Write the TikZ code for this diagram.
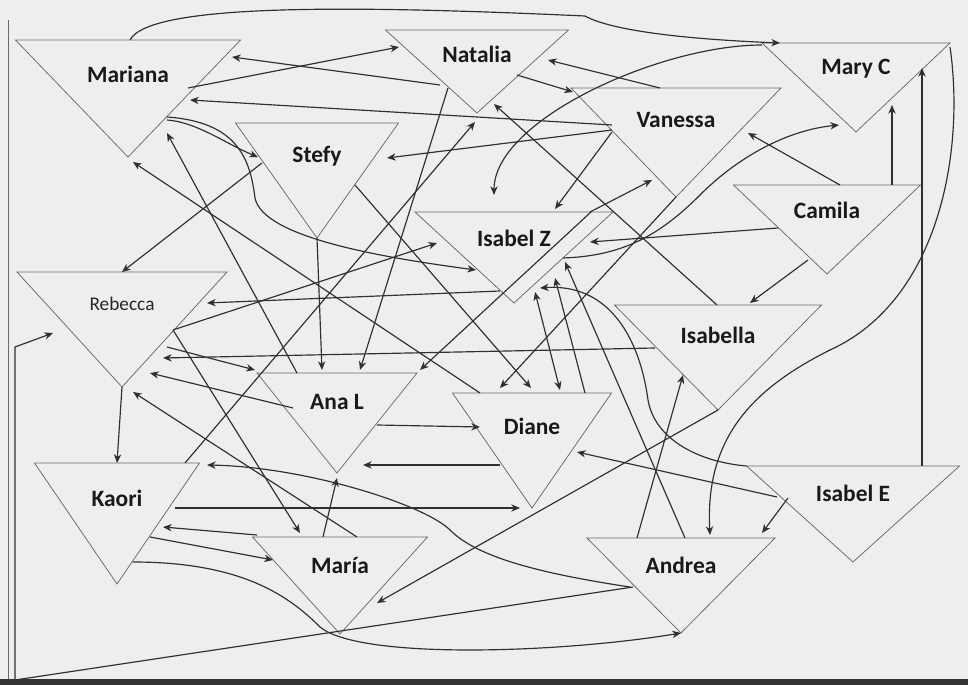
\documentclass[tikz,border=0pt]{standalone}
\usepackage{fontspec}
\setmainfont{Carlito}
\usetikzlibrary{calc,arrows.meta}
\definecolor{ink}{HTML}{303030}
\definecolor{edgegray}{HTML}{6A6A6A}
\definecolor{paper}{HTML}{EDEFEF}

\begin{document}
\begin{tikzpicture}[x=0.03cm,y=-0.03cm,>={Stealth[length=2.6mm,width=2.2mm,inset=0.8mm]},
  persona/.style={inner sep=0pt,outer sep=0pt,anchor=north},
  tri/.style={draw=edgegray,line width=0.65pt,line join=miter},
  nombre/.style={font=\fontsize{20}{24}\selectfont\bfseries,text=black!90},
  link/.style={->,draw=ink,line width=1pt}]
\fill[paper] (0,0) rectangle (968,685);
\useasboundingbox (0,0) rectangle (968,685);
\fill[black!80] (0,679) rectangle (968,685);
\draw[edgegray,line width=0.5pt] (8,20) -- (8,679);

% triangles (one hull per person, anchored at the top edge)
\node[persona,minimum width=225*0.3mm,minimum height=117*0.3mm] (mariana) at (128,40) {};
\node[persona,minimum width=183*0.3mm,minimum height=83*0.3mm] (natalia) at (477,30) {};
\node[persona,minimum width=210*0.3mm,minimum height=109*0.3mm] (vanessa) at (676,88) {};
\node[persona,minimum width=188*0.3mm,minimum height=89*0.3mm] (maryc) at (856,43) {};
\node[persona,minimum width=187*0.3mm,minimum height=89*0.3mm] (camila) at (827,185) {};
\node[persona,minimum width=163*0.3mm,minimum height=115*0.3mm] (stefy) at (317,123) {};
\node[persona,minimum width=198*0.3mm,minimum height=91*0.3mm] (isabelz) at (514,212) {};
\node[persona,minimum width=210*0.3mm,minimum height=115*0.3mm] (rebecca) at (122,272) {};
\node[persona,minimum width=207*0.3mm,minimum height=105*0.3mm] (isabella) at (718,305) {};
\node[persona,minimum width=160*0.3mm,minimum height=100*0.3mm] (anal) at (337,373) {};
\node[persona,minimum width=159*0.3mm,minimum height=115*0.3mm] (diane) at (532,393) {};
\node[persona,minimum width=165*0.3mm,minimum height=121*0.3mm] (kaori) at (117,463) {};
\node[persona,minimum width=175*0.3mm,minimum height=97*0.3mm] (maria) at (340,537) {};
\node[persona,minimum width=188*0.3mm,minimum height=95*0.3mm] (andrea) at (681,538) {};
\node[persona,minimum width=213*0.3mm,minimum height=96*0.3mm] (isabele) at (853,466) {};

\foreach \p/\t in {mariana/Mariana,natalia/Natalia,vanessa/Vanessa,maryc/Mary C,
    camila/Camila,stefy/Stefy,isabelz/Isabel Z,isabella/Isabella,anal/Ana L,
    diane/Diane,kaori/Kaori,maria/María,andrea/Andrea,isabele/Isabel E}{
  \draw[tri] (\p.north west) -- (\p.north east) -- (\p.south) -- cycle;
  \node[nombre] (\p-txt) at ($(\p.north)!0.29!(\p.south)$) {\t};
}
\draw[tri] (rebecca.north west) -- (rebecca.north east) -- (rebecca.south) -- cycle;
\node[font=\fontsize{16.5}{20}\selectfont,text=black!85] (rebecca-txt) at ($(rebecca.north)!0.28!(rebecca.south)$) {Rebecca};

\coordinate (bendA) at (15,680);
\coordinate (bendB) at (15,347);

% Mariana
\draw[link] ($(mariana.north)+(2,0)$) .. controls +(20,-38) and +(-220,-10) .. ($(natalia.north)+(108,-14)$) .. controls +(25,14) and +(-100,-4) .. ($(maryc.north)+(-76,0)$);
\draw[link] ($(mariana.north)+(60,48)$) -- ($(natalia.north)+(-78,17)$);
\draw[link] ($(mariana.north)+(39,80)$) .. controls +(30,2) and +(-30,-12) .. ($(stefy.north)+(-59,34)$);
\draw[link] ($(mariana.north)+(39,77)$) .. controls +(70,5) and +(-5,-40) .. ($(stefy.north)+(-62,75)$) .. controls +(8,40) and +(-90,-12) .. ($(isabelz.north)+(-38,58)$);

% Natalia
\draw[link] ($(natalia.north)+(-37,55)$) -- ($(mariana.north)+(104,17)$);
\draw[link] ($(natalia.north)+(40,45)$) -- ($(vanessa.north)+(-103,4)$);
\draw[link] ($(natalia.north)+(-29,58)$) -- ($(anal.north)+(23,-3)$);

% Vanessa
\draw[link] ($(vanessa.north)+(-64,37)$) -- ($(mariana.north)+(62,60)$);
\draw[link] ($(vanessa.north)+(-64,42)$) -- ($(stefy.north)+(70,35)$);
\draw[link] ($(vanessa.north)+(-16,0)$) -- ($(natalia.north)+(71,30)$);
\draw[link] ($(vanessa.north)+(-64,44)$) -- ($(isabelz.north)+(41,-3)$);
\draw[link] (vanessa.south) -- ($(diane.north)+(-32,-5)$);

% Mary C
\draw[link] ($(maryc.north)+(-94,2)$) .. controls +(-102,0) and +(0,-75) .. ($(isabelz.north)+(-20,-17)$);
\draw[link] ($(maryc.north)+(94,4)$) .. controls +(15,103) and +(110,-50) .. ($(isabella.north)+(112,45)$) .. controls +(-80,40) and +(-5,-95) .. ($(andrea.north)+(29,-3)$);

% Camila
\draw[link] ($(camila.north)+(13,0)$) -- ($(vanessa.north)+(72,45)$);
\draw[link] ($(camila.north)+(65,0)$) -- ($(maryc.north)+(36,62)$);
\draw[link] ($(camila.north)+(-49,43)$) -- ($(isabelz.north)+(76,30)$);
\draw[link] ($(camila.north)+(-19,75)$) -- ($(isabella.north)+(32,-2)$);

% Stefy
\draw[link] ($(stefy.north)+(-55,40)$) -- (rebecca.north);
\draw[link] ($(stefy.north)+(38,62)$) -- ($(diane.north)+(-1,-5)$);
\draw[link] (stefy.south) -- ($(anal.north)+(-15,-3)$);

% Isabel Z
\draw[link] ($(isabelz.north)+(76,0)$) -- ($(vanessa.north)+(-24,92)$);
\draw[link] ($(isabelz.north)+(49,46)$) .. controls +(60,-2) and +(-40,40) .. ($(vanessa.north)+(24,107)$) .. controls +(40,-40) and +(-50,5) .. ($(maryc.north)+(-17,82)$);
\draw[link] ($(isabelz.north)+(-14,79)$) -- ($(rebecca.north)+(85,31)$);
\draw[link] ($(isabelz.north)+(77,0)$) -- ($(anal.north)+(83,-3)$);
\draw[link,<->] ($(isabelz.north)+(21,80)$) -- ($(diane.north)+(28,-3)$);

% Rebecca
\draw[link] ($(rebecca.north)+(51,58)$) -- ($(isabelz.north)+(-77,31)$);
\draw[link] ($(rebecca.north)+(45,75)$) -- ($(anal.north)+(-82,-3)$);
\draw[link] (rebecca.south) -- (kaori.north);
\draw[link] ($(rebecca.north)+(51,58)$) -- ($(maria.north)+(-40,-4)$);

% Isabella
\draw[link] ($(isabella.north)+(-1,0)$) -- ($(natalia.north)+(17,74)$);
\draw[link] ($(isabella.north)+(-63,43)$) -- ($(rebecca.north)+(41,86)$);
\draw[link] (isabella.south) -- ($(maria.north)+(37,66)$);

% Ana L
\draw[link] ($(anal.north)+(-40,0)$) -- ($(mariana.north)+(39,93)$);
\draw[link] ($(anal.north)+(-44,35)$) -- ($(rebecca.north)+(28,101)$);
\draw[link] ($(anal.north)+(40,52)$) -- ($(diane.north)+(-52,34)$);

% Diane
\draw[link] ($(diane.north)+(-52,0)$) -- ($(mariana.north)+(5,122)$);
\draw[link] ($(diane.north)+(-32,72)$) -- ($(anal.north)+(26,92)$);
\draw[link] ($(diane.north)+(53,0)$) -- ($(isabelz.north)+(41,66)$);

% Kaori
\draw[link] ($(kaori.north)+(16,99)$) .. controls +(110,0) and +(-30,-30) .. ($(maria.north)+(-20,90)$) .. controls +(40,33) and +(-120,20) .. (andrea.south);
\draw[link] ($(kaori.north)+(33,74)$) -- ($(maria.north)+(-67,23)$);
\draw[link] ($(kaori.north)+(58,45)$) -- ($(diane.north)+(-12,115)$);
\draw[link] ($(kaori.north)+(68,0)$) -- ($(natalia.north)+(-2,92)$);

% Maria
\draw[link] ($(maria.north)+(17,0)$) -- ($(rebecca.north)+(11,120)$);
\draw[link] ($(maria.north)+(-83,-2)$) -- ($(kaori.north)+(46,64)$);
\draw[link] ($(maria.north)+(-17,0)$) -- ($(anal.north)+(0,105)$);

% Andrea
\draw[link] ($(andrea.north)+(-48,49)$) -- (bendA) -- (bendB) -- ($(rebecca.north)+(-69,61)$);
\draw[link] ($(andrea.north)+(-51,49)$) .. controls +(-100,-15) and +(25,25) .. ($(maria.north)+(110,-7)$) .. controls +(-25,-25) and +(100,2) .. ($(kaori.north)+(90,2)$);
\draw[link] ($(andrea.north)+(-44,0)$) -- ($(isabella.north)+(-35,70)$);
\draw[link] ($(andrea.north)+(4,0)$) -- ($(isabelz.north)+(51,50)$);

% Isabel E
\draw[link] ($(isabele.north)+(69,0)$) -- ($(maryc.north)+(66,25)$);
\draw[link] ($(isabele.north)+(-76,31)$) -- ($(diane.north)+(45,59)$);
\draw[link] ($(isabele.north)+(-65,32)$) -- ($(andrea.north)+(81,-5)$);
\draw[link] (isabele.north west) .. controls +(-47,-4) and +(7,40) .. ($(isabella.north)+(-70,95)$) .. controls +(-8,-60) and +(70,-5) .. ($(isabelz.north)+(26,76)$);
\end{tikzpicture}
\end{document}
